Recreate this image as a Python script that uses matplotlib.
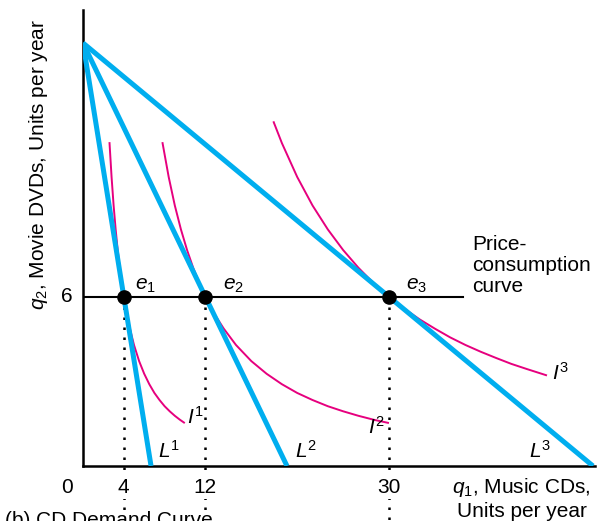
import matplotlib
matplotlib.use("Agg")
import matplotlib.pyplot as plt

plt.rcParams["font.family"] = ["Liberation Sans", "DejaVu Sans"]
plt.rcParams["mathtext.fontset"] = "custom"
plt.rcParams["mathtext.rm"] = "Liberation Sans"
plt.rcParams["mathtext.it"] = "Liberation Sans:italic"

# budget lines: q2 intercept and q1 intercepts
q2_intercept = 15
L_q1_intercepts = [6.67, 20, 50]
L_names = ["1", "2", "3"]

# optimal bundles e1, e2, e3
e_q1 = [4, 12, 30]
e_q2 = [6, 6, 6]

# indifference curves
I1_q1 = [2.6, 2.8, 3.0, 3.2, 3.4, 3.6, 3.8, 4.0, 4.3, 4.6, 5.0, 5.5, 6.0, 6.5,
         7.0, 7.5, 8.0, 8.5, 9.0, 9.5, 9.9]
I1_q2 = [11.45, 10.25, 9.24, 8.39, 7.66, 7.03, 6.48, 6.0, 5.38, 4.87, 4.29, 3.72,
         3.27, 2.90, 2.59, 2.34, 2.12, 1.94, 1.78, 1.64, 1.54]
I2_q1 = [7.8, 8.4, 9.0, 9.6, 10.2, 10.8, 11.4, 12, 12.9, 13.8, 15, 16.5, 18, 19.5,
         21, 22.5, 24, 25.5, 27, 28.5, 29.9]
I2_q2 = [11.45, 10.25, 9.24, 8.39, 7.66, 7.03, 6.48, 6.0, 5.38, 4.87, 4.29, 3.72,
         3.27, 2.90, 2.59, 2.34, 2.12, 1.94, 1.78, 1.64, 1.53]
I3_q1 = [18.7, 19.5, 21, 22.5, 24, 25.5, 27, 28.5, 30, 31.5, 33, 34.5, 36, 37.5,
         39, 40.5, 42, 43.5, 45.4]
I3_q2 = [12.19, 11.45, 10.25, 9.24, 8.39, 7.66, 7.03, 6.48, 6.0, 5.58, 5.20, 4.87,
         4.56, 4.29, 4.05, 3.83, 3.62, 3.44, 3.22]

pcc_end = 37.3  # where the price-consumption line stops

blue = "#00AEEF"
magenta = "#E6007E"
fs = 15

fig = plt.figure(figsize=(6.05, 5.21), dpi=100)
ax = fig.add_axes([0.1372, 0.1056, 0.8463, 0.8752])
ax.set_xlim(0, 50.2)
ax.set_ylim(0, 16.17)
for s in ["top", "right"]:
    ax.spines[s].set_visible(False)
for s in ["left", "bottom"]:
    ax.spines[s].set_linewidth(1.8)
ax.set_xticks([])
ax.set_yticks([])

# price-consumption curve
ax.plot([0, pcc_end], [6, 6], color="black", lw=1.5, zorder=2)

# indifference curves
for xs, ys in [(I1_q1, I1_q2), (I2_q1, I2_q2), (I3_q1, I3_q2)]:
    ax.plot(xs, ys, color=magenta, lw=1.4, zorder=3, solid_joinstyle="round")

# budget lines
for xi in L_q1_intercepts:
    ax.plot([0, xi], [q2_intercept, 0], color=blue, lw=3.6, zorder=4,
            solid_capstyle="butt")

# dotted drop lines
for x, y in zip(e_q1, e_q2):
    ax.plot([x, x], [y, -1.95], color="black", lw=1.8, ls=(0, (1, 3)),
            clip_on=False, zorder=1)

ax.plot(e_q1, e_q2, "o", color="black", ms=9.5, zorder=6)

# labels of points and curves
for x, name in zip([5.1, 13.7, 31.7], ["1", "2", "3"]):
    ax.text(x, 6.4, r"$\mathit{e}_\mathrm{%s}$" % name, fontsize=fs, ha="left", va="center")
for x, y, name in [(10.2, 1.75, "1"), (27.9, 1.4, "2"), (46.0, 3.3, "3")]:
    ax.text(x, y, r"$\mathit{I}^\mathrm{%s}$" % name, fontsize=fs, ha="left", va="center")
for x, name in zip([7.35, 20.8, 43.7], L_names):
    ax.text(x, 0.55, r"$\mathit{L}^\mathrm{%s}$" % name, fontsize=fs, ha="left", va="center")

ax.text(38.2, 8.2, "Price-\nconsumption\ncurve", fontsize=fs, ha="left", va="top",
        linespacing=1.15)

# tick labels
ax.text(-1.57, 6, "6", fontsize=fs, ha="center", va="center")
ax.text(-1.57, -0.78, "0", fontsize=fs, ha="center", va="center", clip_on=False)
for x in e_q1:
    ax.text(x, -0.78, str(x), fontsize=fs, ha="center", va="center",
            bbox=dict(facecolor="white", edgecolor="none", pad=1.0), zorder=5)

ax.text(36.2, -0.78, r"$\mathit{q}_\mathrm{1}$, Music CDs,", fontsize=fs,
        ha="left", va="center")
ax.text(36.7, -1.62, "Units per year", fontsize=fs, ha="left", va="center",
        bbox=dict(facecolor="white", edgecolor="none", pad=0.5))
ax.text(-4.4, 10.7, r"$\mathit{q}_\mathrm{2}$, Movie DVDs, Units per year",
        fontsize=fs, rotation=90, ha="center", va="center")
ax.text(-7.6, -1.6, "(b) CD Demand Curve", fontsize=fs, ha="left", va="top",
        bbox=dict(facecolor="white", edgecolor="none", pad=0.5))

fig.savefig("out.png", dpi=100)
